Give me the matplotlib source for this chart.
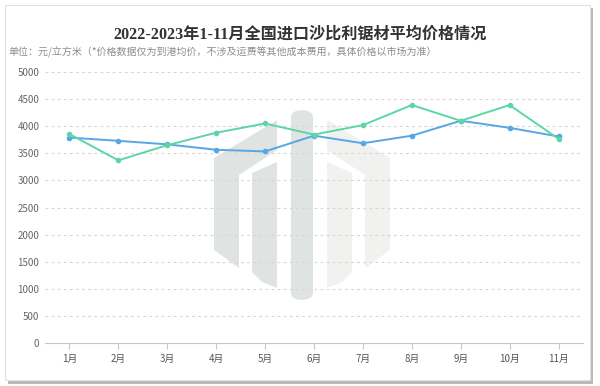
import matplotlib
matplotlib.use('Agg')
import matplotlib.pyplot as plt
from matplotlib.patches import Polygon, FancyBboxPatch, Rectangle
import numpy as np

plt.rcParams['font.family'] = ['Noto Sans CJK SC', 'DejaVu Sans']

months = ['1月', '2月', '3月', '4月', '5月', '6月', '7月', '8月', '9月', '10月', '11月']
price_blue = [3790, 3730, 3665, 3565, 3535, 3825, 3685, 3825, 4100, 3970, 3810]
price_green = [3855, 3370, 3650, 3880, 4050, 3845, 4020, 4390, 4100, 4390, 3765]
yticks = [0, 500, 1000, 1500, 2000, 2500, 3000, 3500, 4000, 4500, 5000]

title = '2022-2023年1-11月全国进口沙比利锯材平均价格情况'
subtitle = '单位：元/立方米（*价格数据仅为到港均价，不涉及运费等其他成本费用，具体价格以市场为准）'

W, H = 600, 386
fig = plt.figure(figsize=(6, 3.86), dpi=100)
fig.patch.set_facecolor('white')


def px(x, y):
    # pixel coords (top-left origin) -> figure fraction
    return (x / W, (H - y) / H)


# card with shadow
fig.patches.append(Rectangle(px(8, 384), 585 / W, 376 / H, transform=fig.transFigure,
                             facecolor='#b9b9b9', edgecolor='none', zorder=0))
fig.patches.append(Rectangle(px(5, 380), 585 / W, 375 / H, transform=fig.transFigure,
                             facecolor='white', edgecolor='#e2e2e2', lw=0.8, zorder=0.5))

# watermark logo
wm_dark = '#dfe4e3'
wm_light = '#f1f1f0'
left_outer = [(214, 158), (277, 120), (277, 150), (239, 175), (239, 268), (214, 250)]
left_inner = [(252, 173), (277, 162), (277, 288), (262, 282), (252, 272)]
for pts in [left_outer, left_inner]:
    fig.patches.append(Polygon([px(*p) for p in pts], closed=True, transform=fig.transFigure,
                               facecolor=wm_dark, edgecolor='none', zorder=1))
    mirror = [(604 - x, y) for x, y in pts]
    fig.patches.append(Polygon([px(*p) for p in mirror], closed=True, transform=fig.transFigure,
                               facecolor=wm_light, edgecolor='none', zorder=1))
fig.patches.append(FancyBboxPatch(px(291, 300), 22 / W, 190 / H, transform=fig.transFigure,
                                  boxstyle='round,pad=0,rounding_size=0.02',
                                  facecolor=wm_dark, edgecolor='none', zorder=1))

ax = fig.add_axes([45 / W, (H - 343) / H, (583 - 45) / W, (343 - 72) / H])
ax.set_facecolor('none')
ax.set_zorder(2)

x = np.arange(len(months))
ax.plot(x, price_green, color='#5dd6a5', lw=1.4, marker='o', ms=3, zorder=4)
ax.plot(x, price_blue, color='#56a6e8', lw=1.4, marker='o', ms=3, zorder=3)

ax.set_xlim(-0.5, len(months) - 0.5)
ax.set_ylim(0, 5000)
ax.set_yticks(yticks)
ax.set_yticklabels([str(v) for v in yticks])
ax.set_xticks(x)
ax.set_xticklabels(months)

for s in ['top', 'right', 'left']:
    ax.spines[s].set_visible(False)
ax.spines['bottom'].set_color('#c8c8c8')
ax.spines['bottom'].set_linewidth(0.8)

ax.grid(axis='y', color='#d6d6d6', lw=0.8, linestyle=(0, (2.5, 3)))
ax.set_axisbelow(True)
ax.tick_params(axis='y', length=0, labelsize=7, labelcolor='#666666', pad=4)
ax.tick_params(axis='x', length=4, color='#c8c8c8', labelsize=7, labelcolor='#555555', pad=4)

fig.text(0.5, px(0, 35)[1], title, ha='center', va='center', fontsize=11.6,
         fontweight='bold', color='#333333', family=['Liberation Serif', 'Noto Sans CJK SC'])
fig.text(px(8, 0)[0], px(0, 52)[1], subtitle, ha='left', va='center', fontsize=7.2,
         color='#8c8c8c')

fig.savefig('out.png', dpi=100)
